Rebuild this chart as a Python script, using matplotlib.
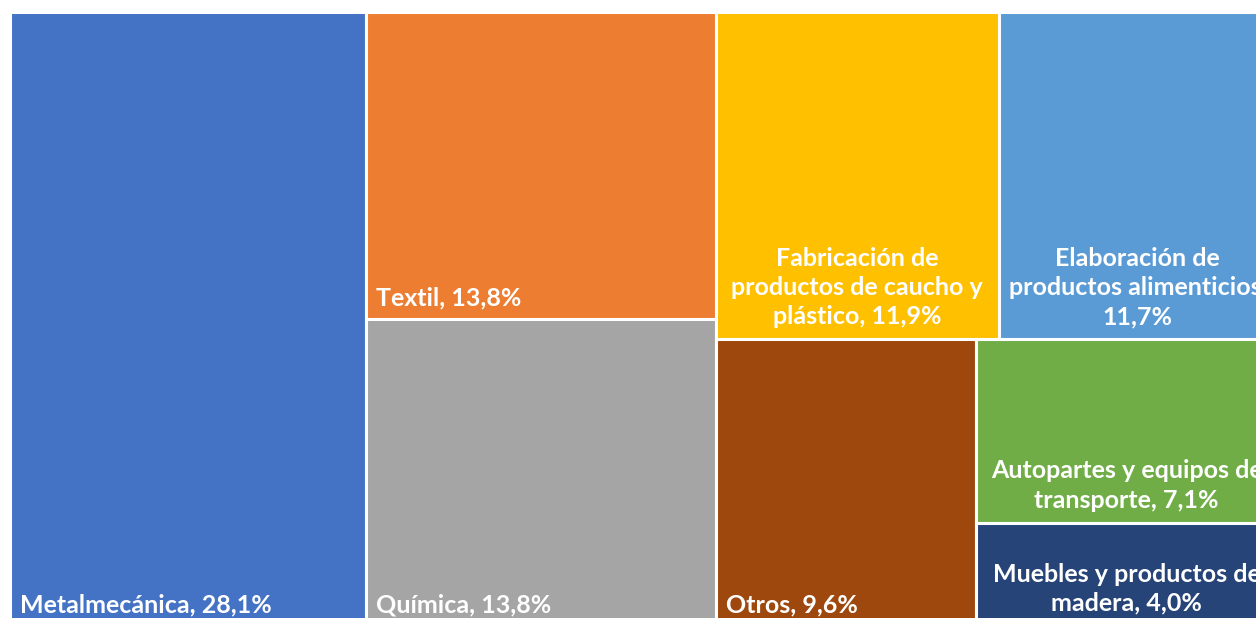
import matplotlib.pyplot as plt
from matplotlib.patches import Rectangle

labels = ["Metalmecánica, 28,1%", "Textil, 13,8%", "Química, 13,8%",
          "Fabricación de\nproductos de caucho y\nplástico, 11,9%",
          "Elaboración de\nproductos alimenticios,\n11,7%",
          "Otros, 9,6%",
          "Autopartes y equipos de\ntransporte, 7,1%",
          "Muebles y productos de\nmadera, 4,0%"]
values = [28.1, 13.8, 13.8, 11.9, 11.7, 9.6, 7.1, 4.0]
colors = ["#4472C4", "#ED7D31", "#A5A5A5", "#FFC000",
          "#5B9BD5", "#9E480E", "#70AD47", "#264478"]

# grouping of the treemap (index into values), split direction alternates
tree = [0, [1, 2], [[3, 4], [5, [6, 7]]]]


def total(node):
    if isinstance(node, int):
        return values[node]
    return sum(total(n) for n in node)


def layout(node, x, y, w, h, horiz, out):
    if isinstance(node, int):
        out.append((node, x, y, w, h))
        return
    s = total(node)
    if horiz:
        cx = x
        for n in node:
            nw = w * total(n) / s
            layout(n, cx, y, nw, h, not horiz, out)
            cx += nw
    else:
        cy = y + h
        for n in node:
            nh = h * total(n) / s
            cy -= nh
            layout(n, x, cy, w, nh, not horiz, out)


fig = plt.figure(figsize=(12.56, 6.18), dpi=100)
ax = fig.add_axes([10 / 1256, -8 / 618, 1267 / 1256, 614 / 618])
ax.set_xlim(0, 1)
ax.set_ylim(0, 1)
ax.axis("off")

rects = []
layout(tree, 0, 0, 1, 1, True, rects)

fs = 18
for i, x, y, w, h in rects:
    ax.add_patch(Rectangle((x, y), w, h, facecolor=colors[i],
                           edgecolor="white", linewidth=2.2))
    if "\n" in labels[i]:
        ax.annotate(labels[i], (x + w / 2, y), xytext=(0, 8),
                    textcoords="offset points", ha="center", va="bottom",
                    multialignment="center", color="white",
                    fontsize=fs, fontweight="bold", family="Lato",
                    linespacing=1.32, annotation_clip=False)
    else:
        ax.annotate(labels[i], (x, y), xytext=(7.2, 7),
                    textcoords="offset points", ha="left", va="bottom",
                    color="white", fontsize=fs, fontweight="bold",
                    family="Lato", annotation_clip=False)

fig.savefig("out.png", dpi=100)
